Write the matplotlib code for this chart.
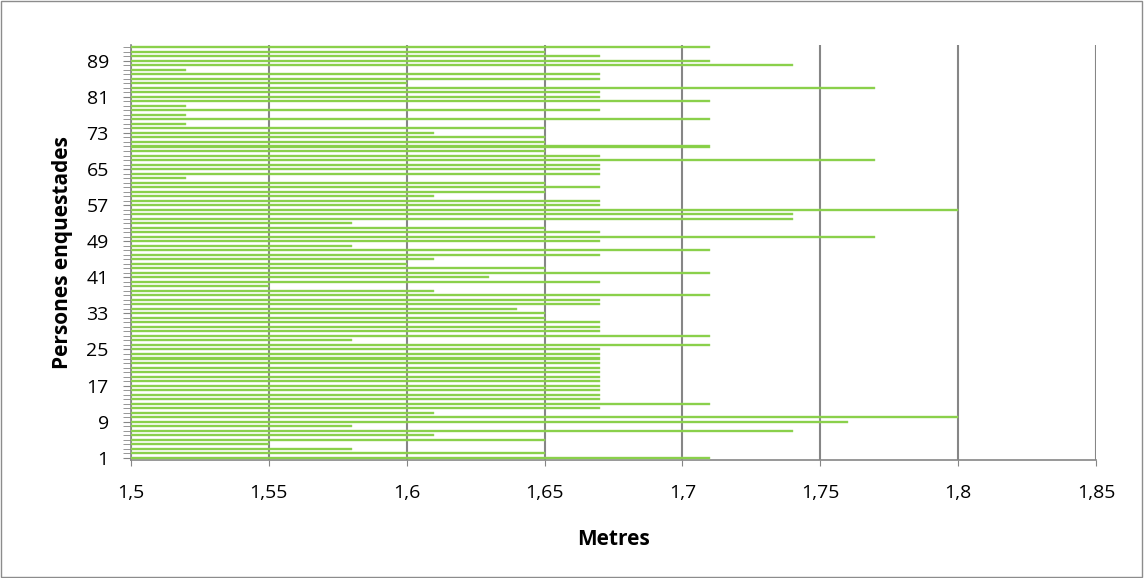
import matplotlib
matplotlib.use("Agg")
import matplotlib.pyplot as plt
from matplotlib.patches import Rectangle
from matplotlib.ticker import FixedLocator, FixedFormatter, MultipleLocator

plt.rcParams['font.family'] = ['Open Sans', 'DejaVu Sans']

persons = list(range(1, 93))
heights = [
    1.71, 1.65, 1.58, 1.55, 1.65, 1.61, 1.74, 1.58, 1.76, 1.80,
    1.61, 1.67, 1.71, 1.67, 1.67, 1.67, 1.67, 1.67, 1.67, 1.67,
    1.67, 1.67, 1.67, 1.67, 1.67, 1.71, 1.58, 1.71, 1.67, 1.67,
    1.67, 1.65, 1.65, 1.64, 1.67, 1.67, 1.71, 1.61, 1.55, 1.67,
    1.63, 1.71, 1.65, 1.60, 1.61, 1.67, 1.71, 1.58, 1.67, 1.77,
    1.67, 1.65, 1.58, 1.74, 1.74, 1.80, 1.67, 1.67, 1.61, 1.65,
    1.67, 1.65, 1.52, 1.67, 1.67, 1.67, 1.77, 1.67, 1.65, 1.71,
    1.65, 1.65, 1.61, 1.65, 1.52, 1.71, 1.52, 1.67, 1.52, 1.71,
    1.67, 1.67, 1.77, 1.60, 1.67, 1.67, 1.52, 1.74, 1.71, 1.67,
    1.65, 1.71,
]
x_ticks = [1.5, 1.55, 1.6, 1.65, 1.7, 1.75, 1.8, 1.85]
x_tick_labels = ["1,5", "1,55", "1,6", "1,65", "1,7", "1,75", "1,8", "1,85"]
y_ticks = [1, 9, 17, 25, 33, 41, 49, 57, 65, 73, 81, 89]
base = 1.5

fig = plt.figure(figsize=(11.44, 5.78), dpi=100)
fig.patches.append(Rectangle((0.0005, 0.001), 0.998, 0.997, transform=fig.transFigure,
                             fill=False, edgecolor='#8c8c8c', linewidth=1.0))
ax = fig.add_axes([131/1144, 1-460/578, (1096-131)/1144, (460-45)/578])

ax.barh(persons, [h - base for h in heights], left=base, height=0.45,
        color='#86CF45', edgecolor='#9BD866', linewidth=0.3, zorder=3)

ax.set_xlim(1.5, 1.85)
ax.set_ylim(0.5, 92.5)
ax.xaxis.set_major_locator(FixedLocator(x_ticks))
ax.xaxis.set_major_formatter(FixedFormatter(x_tick_labels))
ax.yaxis.set_major_locator(FixedLocator(y_ticks))
ax.yaxis.set_minor_locator(MultipleLocator(1))

ax.grid(axis='x', color='#868686', linewidth=1.5, zorder=1)
for s in ['top', 'right']:
    ax.spines[s].set_visible(False)
for s in ['left', 'bottom']:
    ax.spines[s].set_color('#868686')
    ax.spines[s].set_linewidth(1.2)

ax.tick_params(axis='y', which='major', length=6, color='#868686', labelsize=14, pad=10)
ax.tick_params(axis='y', which='minor', length=6, color='#868686')
ax.tick_params(axis='x', which='major', length=4, color='#868686', labelsize=14, pad=13)

ax.set_xlabel('Metres', fontsize=15, fontweight='bold', labelpad=20)
ax.set_ylabel('Persones enquestades', fontsize=15, fontweight='bold', labelpad=10)

fig.savefig('out.png', dpi=100)
